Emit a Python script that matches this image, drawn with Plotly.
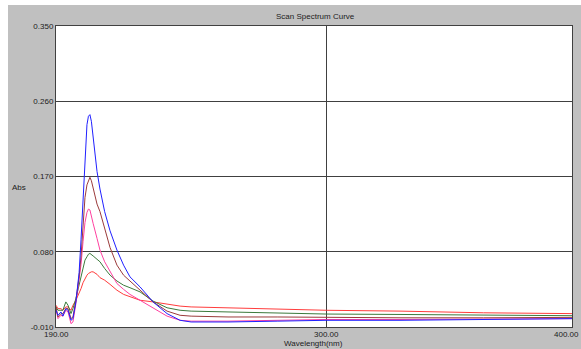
import plotly.graph_objects as go

# Wavelength grid (nm)
wavelength = [190.0, 190.8, 192.0, 192.8, 194.0, 194.9, 196.1, 196.9, 198.1, 199.4,
              200.2, 201.0, 201.8, 202.6, 203.2, 203.8, 204.4, 205.1, 206.7, 207.9,
              209.8, 212.0, 214.8, 217.5, 220.1, 224.2, 229.5, 235.2, 240.5, 245.0,
              260.0, 280.0, 300.0, 330.0, 364.0, 400.0]

abs_blue = [0.010, 0.004, 0.008, 0.003, 0.012, 0.010, -0.002, 0.000, 0.020, 0.055,
            0.095, 0.140, 0.195, 0.232, 0.242, 0.244, 0.236, 0.216, 0.176, 0.155,
            0.128, 0.105, 0.082, 0.064, 0.050, 0.038, 0.020, 0.006, -0.002, -0.004,
            -0.004, -0.003, -0.002, -0.002, -0.001, 0.000]

abs_brown = [0.014, 0.002, 0.006, 0.006, 0.012, 0.012, 0.000, 0.002, 0.022, 0.050,
             0.075, 0.115, 0.145, 0.160, 0.166, 0.169, 0.165, 0.156, 0.137, 0.128,
             0.108, 0.085, 0.064, 0.052, 0.045, 0.034, 0.020, 0.009, 0.004, 0.003,
             0.002, 0.002, 0.0015, 0.001, 0.001, 0.0015]

abs_pink = [0.012, 0.000, 0.004, 0.003, 0.010, 0.008, -0.006, -0.004, 0.018, 0.045,
            0.065, 0.092, 0.115, 0.127, 0.131, 0.130, 0.122, 0.114, 0.096, 0.082,
            0.068, 0.056, 0.042, 0.035, 0.029, 0.022, 0.013, 0.003, -0.002, -0.003,
            -0.003, -0.002, -0.001, -0.001, -0.0005, 0.000]

abs_green = [0.014, 0.010, 0.010, 0.010, 0.020, 0.016, 0.006, 0.012, 0.024, 0.040,
             0.052, 0.062, 0.070, 0.074, 0.077, 0.078, 0.077, 0.075, 0.071, 0.068,
             0.060, 0.052, 0.045, 0.040, 0.037, 0.032, 0.021, 0.013, 0.010, 0.009,
             0.008, 0.007, 0.0055, 0.005, 0.004, 0.0035]

abs_red = [0.016, 0.012, 0.012, 0.010, 0.014, 0.014, 0.010, 0.016, 0.022, 0.030,
           0.036, 0.043, 0.048, 0.052, 0.054, 0.055, 0.056, 0.056, 0.053, 0.049,
           0.046, 0.041, 0.034, 0.029, 0.026, 0.022, 0.020, 0.017, 0.015, 0.014,
           0.013, 0.012, 0.010, 0.009, 0.007, 0.006]

x_ticks = [190, 300, 400]
x_tick_text = ["190.00", "300.00", "400.00"]
y_ticks = [-0.010, 0.080, 0.170, 0.260, 0.350]
y_tick_text = ["-0.010", "0.080", "0.170", "0.260", "0.350"]

series = [
    (abs_red, "#ff3c3c"),
    (abs_green, "#3c7a3c"),
    (abs_pink, "#ff40a0"),
    (abs_brown, "#9b3b3b"),
    (abs_blue, "#2020ff"),
]

fig = go.Figure()
for vals, col in series:
    fig.add_trace(go.Scatter(x=wavelength, y=vals, mode="lines",
                             line=dict(color=col, width=1), showlegend=False,
                             hoverinfo="skip"))

FONT = "Liberation Sans, Arial, sans-serif"

annotations = [
    dict(text="Scan Spectrum Curve", xref="paper", yref="paper",
         x=(315 - 56) / 516, y=1 + (26 - 17) / 301, showarrow=False,
         xanchor="center", yanchor="middle", font=dict(size=8)),
    dict(text="Abs", xref="paper", yref="paper",
         x=(18.5 - 56) / 516, y=(327 - 187) / 301, showarrow=False,
         xanchor="center", yanchor="middle", font=dict(size=8)),
    dict(text="Wavelength(nm)", xref="paper", yref="paper",
         x=(313 - 56) / 516, y=(327 - 349) / 301, showarrow=False,
         xanchor="center", yanchor="bottom", borderpad=0, font=dict(size=8)),
]
# x tick labels drawn as annotations; the last one is kept inside the page edge
for i, (xv, txt) in enumerate(zip(x_ticks, x_tick_text)):
    last = i == len(x_ticks) - 1
    annotations.append(dict(text=txt,
                            x=(1 + 8 / 516) if last else xv,
                            xref="paper" if last else "x", yref="paper",
                            y=(327 - 329) / 301, showarrow=False,
                            xanchor="right" if last else "center",
                            yanchor="top", borderpad=0,
                            font=dict(size=8)))

fig.update_layout(
    width=581, height=349,
    margin=dict(l=56, r=9, t=26, b=22),
    paper_bgcolor="#c0c0c0",
    plot_bgcolor="white",
    font=dict(family=FONT, size=8, color="#202020"),
    xaxis=dict(range=[190, 400], tickvals=x_ticks, showticklabels=False,
               showgrid=True, gridcolor="#404040", gridwidth=1,
               showline=True, linecolor="#404040", linewidth=1, mirror=True,
               ticks="", zeroline=False),
    yaxis=dict(range=[-0.010, 0.350], tickvals=y_ticks, ticktext=y_tick_text,
               showgrid=True, gridcolor="#404040", gridwidth=1,
               showline=True, linecolor="#404040", linewidth=1, mirror=True,
               ticks="", zeroline=False, tickfont=dict(size=8)),
    shapes=[
        dict(type="rect", xref="paper", yref="paper", x0=-0.2, x1=(8 - 56) / 516,
             y0=-0.2, y1=1.2, fillcolor="white", line=dict(width=0), layer="below"),
        dict(type="rect", xref="paper", yref="paper", x0=-0.2, x1=1.2,
             y0=1 + (26 - 5) / 301, y1=1.2, fillcolor="white", line=dict(width=0),
             layer="below"),
    ],
    annotations=annotations,
)

fig.write_html("out.html")
